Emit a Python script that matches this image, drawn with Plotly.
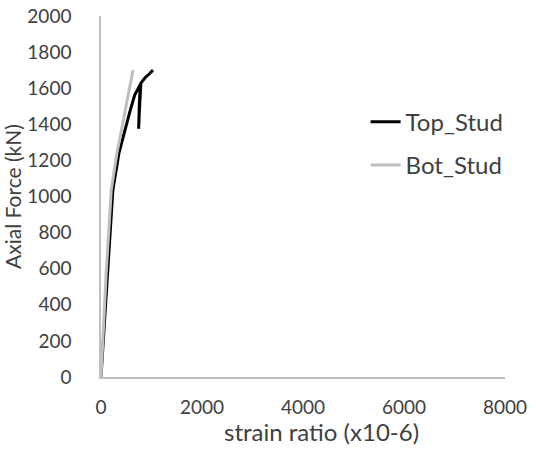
import plotly.graph_objects as go

# strain ratio (x10-6) vs axial force (kN)
top_strain = [0, 135, 235, 355, 420, 500, 580, 667, 730, 780, 760, 745, 765, 790, 880, 960, 1030]
top_force = [0, 575, 1036, 1240, 1313, 1405, 1479, 1562, 1600, 1622, 1520, 1375, 1500, 1628, 1660, 1680, 1700]

bot_strain = [0, 103, 203, 315, 400, 480, 553, 633]
bot_force = [0, 575, 1036, 1240, 1360, 1470, 1580, 1700]

family = "Lato, 'Open Sans', sans-serif"
tick_font = dict(family=family, size=19, color="#404040")
xtitle_font = dict(family=family, size=24, color="#404040")
ytitle_font = dict(family=family, size=21, color="#404040")
legend_font = dict(family=family, size=24, color="#404040")

fig = go.Figure()

fig.add_trace(go.Scatter(
    x=top_strain, y=top_force, mode="lines", name="Top_Stud",
    line=dict(color="black", width=3), legendgroup="a"
))
fig.add_trace(go.Scatter(
    x=bot_strain, y=bot_force, mode="lines", name="Bot_Stud",
    line=dict(color="#bfbfbf", width=3), legendgroup="b"
))

fig.update_layout(
    width=536, height=465,
    margin=dict(l=101, r=31, t=16, b=88),
    paper_bgcolor="white", plot_bgcolor="white",
    font=tick_font,
    showlegend=True,
    legend=dict(x=0.655, y=0.768, xanchor="left", yanchor="top",
                tracegroupgap=9, font=legend_font, bgcolor="rgba(0,0,0,0)"),
)

# x axis title as an annotation so it can sit slightly right of centre
fig.add_annotation(
    text="strain ratio (x10-6)", font=xtitle_font,
    xref="paper", yref="paper", x=0.547, y=-0.152,
    xanchor="center", yanchor="middle", showarrow=False,
)

fig.update_xaxes(
    range=[0, 8000], tickvals=[0, 2000, 4000, 6000, 8000],
    showgrid=False, zeroline=False, automargin=False,
    showline=True, linecolor="#bfbfbf", linewidth=1.5,
    ticks="outside", ticklen=12, tickcolor="rgba(0,0,0,0)",
    tickfont=tick_font, ticklabeloverflow="allow",
)
fig.update_yaxes(
    range=[0, 2000], tickvals=list(range(0, 2001, 200)),
    showgrid=False, zeroline=False, automargin=False,
    showline=True, linecolor="#bfbfbf", linewidth=1.5,
    ticks="outside", ticklen=24, tickcolor="rgba(0,0,0,0)",
    tickfont=tick_font, ticklabeloverflow="allow",
    title=dict(text="Axial Force (kN)", standoff=0, font=ytitle_font),
)

# drop the browser's default body margin so the figure fills the window
fig.write_html(
    "out.html",
    config={"displayModeBar": False},
    post_script="document.body.style.margin = '0px';",
)
